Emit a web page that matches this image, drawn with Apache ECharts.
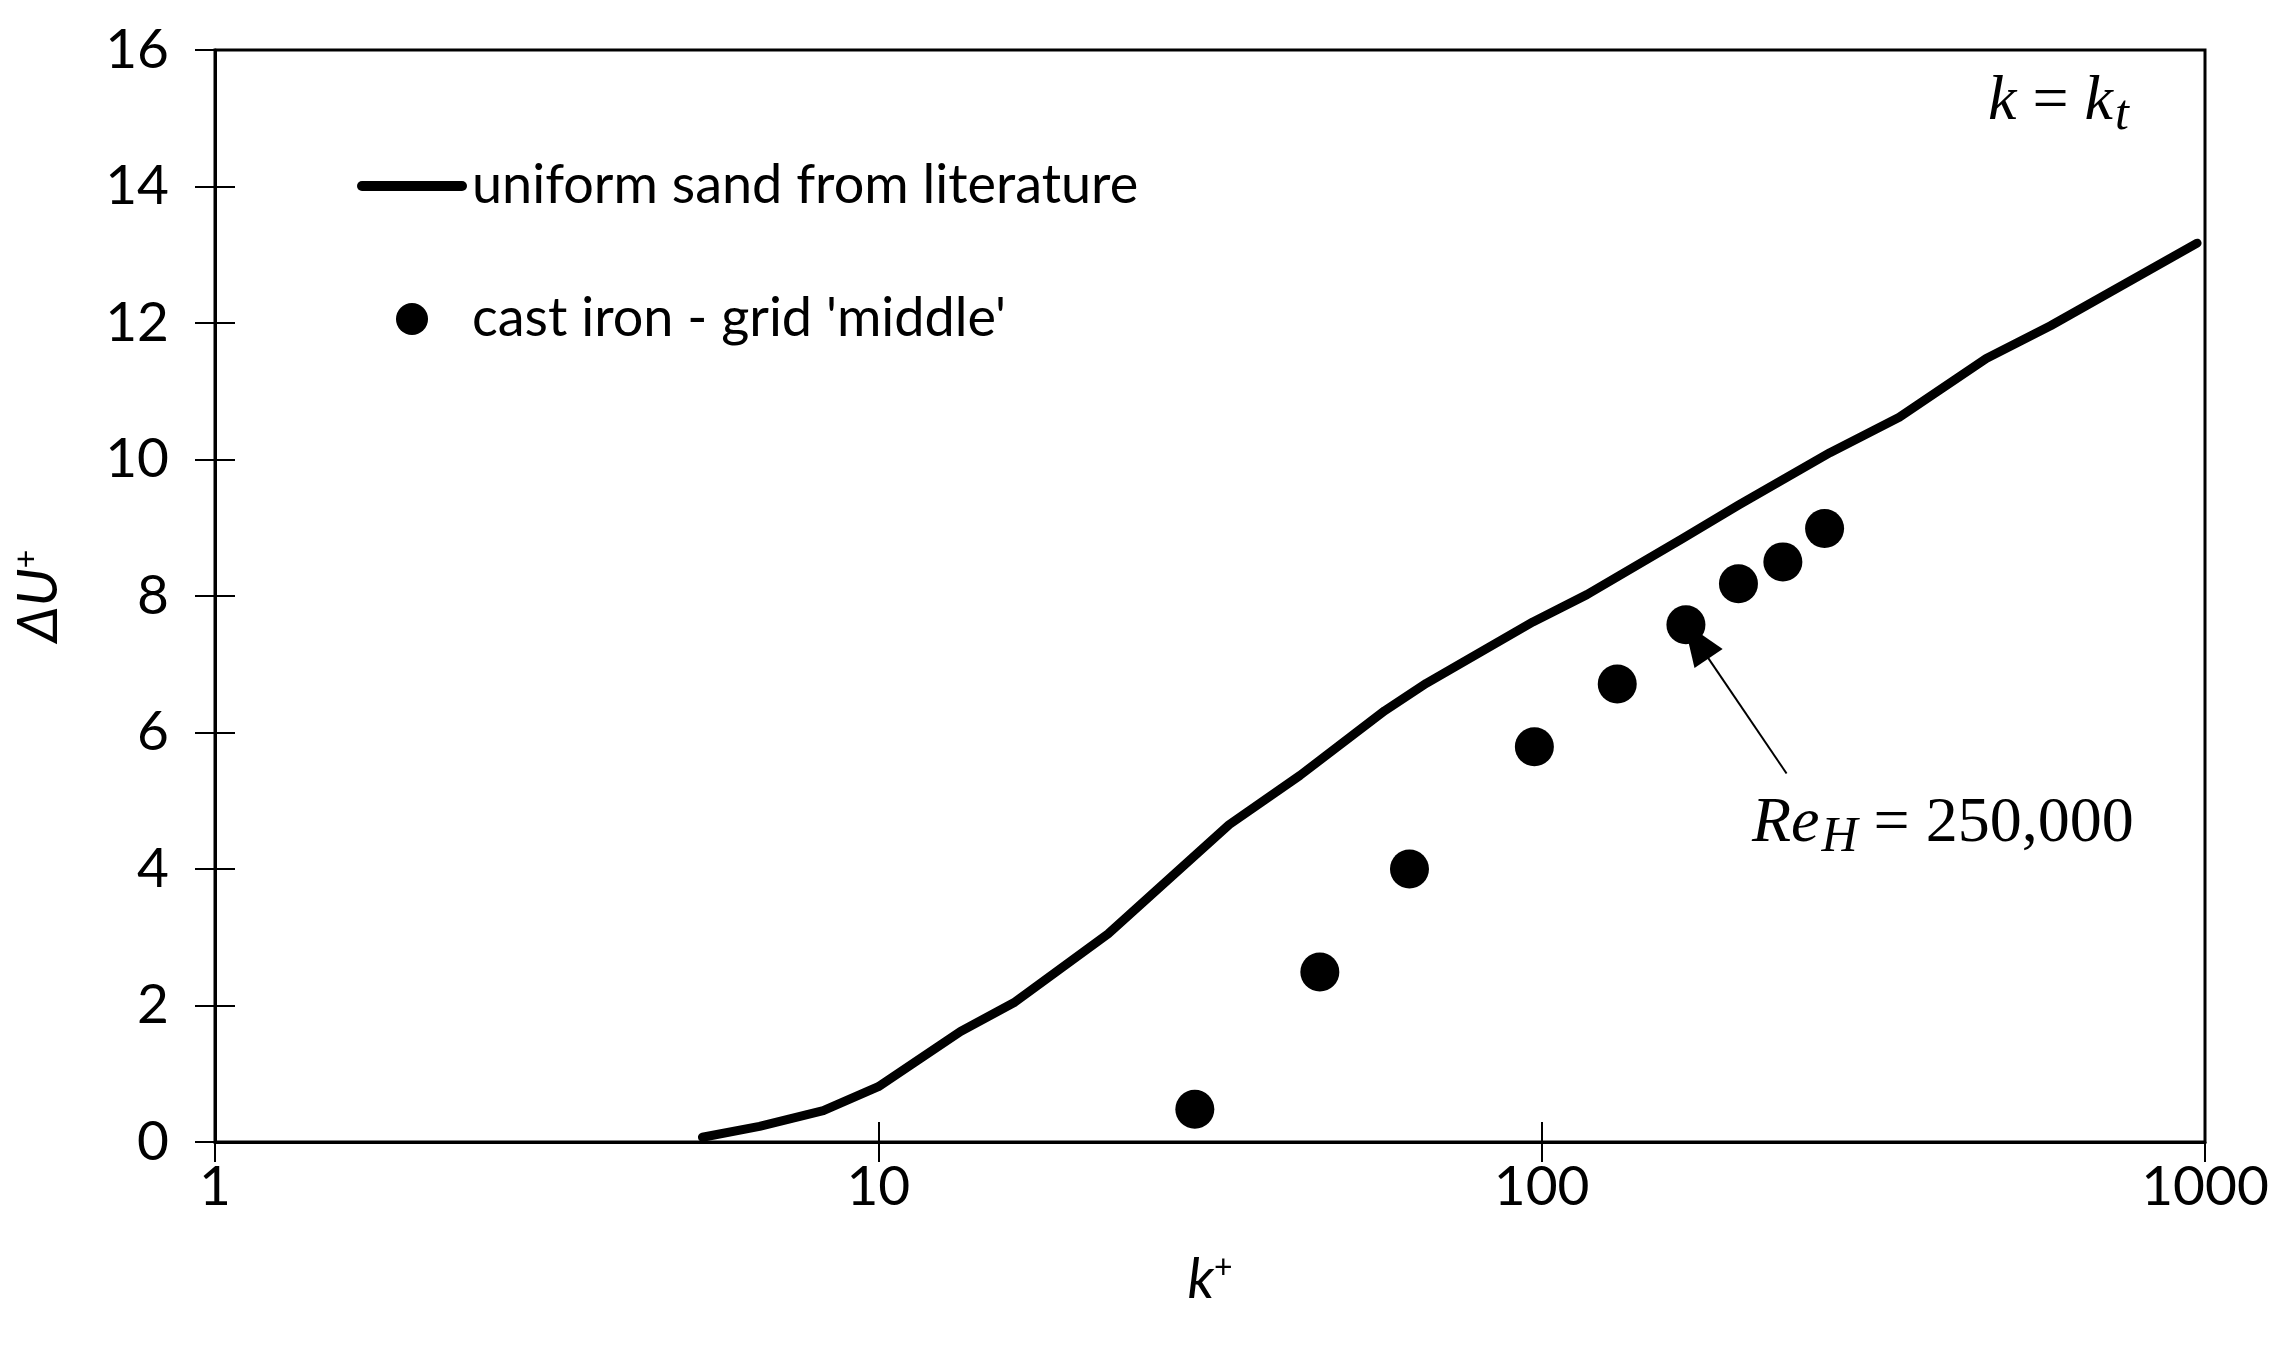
<!DOCTYPE html>
<html>
<head>
<meta charset="utf-8">
<script src="https://cdn.jsdelivr.net/npm/echarts@6/dist/echarts.min.js"></script>
<style>
html, body { margin: 0; padding: 0; background: #fff; }
#chart { width: 2289px; height: 1358px; }
</style>
</head>
<body>
<div id="chart"></div>
<script>
// uniform sand curve (k+, dU+)
var sandK = [5.43, 6.62, 8.26, 10.0, 13.3, 16.0, 22.2, 33.8, 43.2, 58.0, 67.0, 97, 117, 163, 198, 272, 346, 468, 585, 973];
var sandDU = [0.07, 0.23, 0.46, 0.81, 1.62, 2.04, 3.05, 4.65, 5.37, 6.32, 6.72, 7.62, 8.02, 8.84, 9.33, 10.1, 10.62, 11.48, 11.96, 13.17];
// cast iron, grid 'middle'
var ironK = [30.0, 46.3, 63.2, 97.5, 130, 165, 198, 231, 267];
var ironDU = [0.48, 2.49, 4.0, 5.79, 6.71, 7.58, 8.18, 8.5, 8.99];
var xTicks = [1, 10, 100, 1000];
var yTicks = [0, 2, 4, 6, 8, 10, 12, 14, 16];

var FONT = 'Lato';
var MATH = 'Liberation Serif';

var chart = echarts.init(document.getElementById('chart'));

function pairs(xs, ys) {
    return xs.map(function (x, i) { return [x, ys[i]]; });
}

var axisLineStyle = { color: '#000', width: 3 };
var mathRich = {
    i: { fontFamily: MATH, fontStyle: 'italic', fontSize: 64, fill: '#000' },
    u: { fontFamily: MATH, fontSize: 64, fill: '#000' },
    s: { fontFamily: MATH, fontStyle: 'italic', fontSize: 50, fill: '#000', verticalAlign: 'bottom', padding: [28, 0, 0, 2] }
};

var option = {
    animation: false,
    backgroundColor: '#fff',
    grid: {
        left: 215,
        right: 84,
        top: 50,
        bottom: 216,
        show: true,
        borderColor: '#000',
        borderWidth: 3
    },
    legend: {
        orient: 'vertical',
        left: 352,
        top: 154,
        itemWidth: 110,
        itemHeight: 32,
        itemGap: 79,
        textStyle: { fontFamily: FONT, fontSize: 54, color: '#000' },
        data: [
            { name: 'uniform sand from literature', icon: 'path://M5,0 H105 A5,5 0 0 1 105,10 H5 A5,5 0 0 1 5,0 Z' },
            { name: "cast iron - grid 'middle'", icon: 'circle' }
        ]
    },
    xAxis: [{
        type: 'log',
        logBase: 10,
        min: xTicks[0],
        max: xTicks[xTicks.length - 1],
        name: '{i|k}{s|+}',
        nameLocation: 'middle',
        nameGap: 110,
        nameTextStyle: {
            rich: {
                i: { fontFamily: FONT, fontStyle: 'italic', fontSize: 56, color: '#000' },
                s: { fontFamily: FONT, fontSize: 32, color: '#000', verticalAlign: 'top' }
            }
        },
        axisLine: { lineStyle: axisLineStyle },
        axisTick: { length: 20, lineStyle: { color: '#000', width: 2 } },
        axisLabel: {
            fontFamily: FONT, fontSize: 55, color: '#000', margin: 18,
            formatter: function (v) { return String(Math.round(v)); }
        },
        splitLine: { show: false },
        minorTick: { show: false }
    }, {
        type: 'log',
        logBase: 10,
        min: xTicks[0],
        max: xTicks[xTicks.length - 1],
        position: 'bottom',
        axisLine: { show: false },
        axisTick: { inside: true, length: 20, lineStyle: { color: '#000', width: 2 } },
        axisLabel: { show: false },
        splitLine: { show: false }
    }],
    yAxis: [{
        type: 'value',
        min: yTicks[0],
        max: yTicks[yTicks.length - 1],
        interval: 2,
        name: '{i|ΔU}{s|+}',
        nameLocation: 'middle',
        nameGap: 148,
        nameRotate: 90,
        nameTextStyle: {
            rich: {
                i: { fontFamily: FONT, fontStyle: 'italic', fontSize: 56, color: '#000' },
                s: { fontFamily: FONT, fontSize: 32, color: '#000', verticalAlign: 'top' }
            }
        },
        axisLine: { show: true, lineStyle: axisLineStyle },
        axisTick: { show: true, length: 20, lineStyle: { color: '#000', width: 2 } },
        axisLabel: { fontFamily: FONT, fontSize: 55, color: '#000', margin: 46 },
        splitLine: { show: false }
    }, {
        type: 'value',
        min: yTicks[0],
        max: yTicks[yTicks.length - 1],
        interval: 2,
        position: 'left',
        axisLine: { show: false },
        axisTick: { show: true, inside: true, length: 20, lineStyle: { color: '#000', width: 2 } },
        axisLabel: { show: false },
        splitLine: { show: false }
    }],
    series: [{
        name: 'uniform sand from literature',
        type: 'line',
        symbol: 'none',
        data: pairs(sandK, sandDU),
        lineStyle: { color: '#000', width: 9, cap: 'round', join: 'round' },
        itemStyle: { color: '#000' }
    }, {
        name: "cast iron - grid 'middle'",
        type: 'scatter',
        symbol: 'circle',
        symbolSize: 39,
        data: pairs(ironK, ironDU),
        itemStyle: { color: '#000', opacity: 1 },
        markLine: {
            silent: true,
            symbol: ['none', 'triangle'],
            symbolSize: [34, 44],
            label: { show: false },
            lineStyle: { color: '#000', width: 2, type: 'solid' },
            data: [[{ coord: [234, 5.40] }, { coord: [171, 7.35] }]]
        }
    }],
    graphic: [{
        type: 'text',
        left: 1988,
        top: 70,
        style: { text: '{i|k}{u| = }{i|k}{s|t}', rich: mathRich }
    }, {
        type: 'text',
        left: 1752,
        top: 792,
        style: { text: '{i|Re}{s|H}{u| = 250,000}', rich: mathRich }
    }]
};

chart.setOption(option);
</script>
</body>
</html>
